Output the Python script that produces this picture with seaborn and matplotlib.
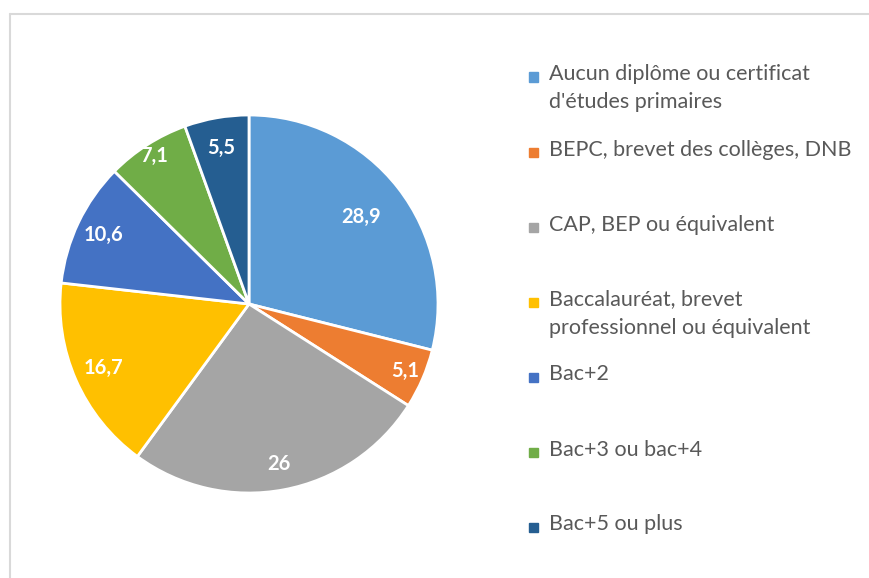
import matplotlib.pyplot as plt
import matplotlib.patches as mpatches
import seaborn as sns
import numpy as np

categories = [
    "Aucun diplôme ou certificat\nd'études primaires",
    "BEPC, brevet des collèges, DNB",
    "CAP, BEP ou équivalent",
    "Baccalauréat, brevet\nprofessionnel ou équivalent",
    "Bac+2",
    "Bac+3 ou bac+4",
    "Bac+5 ou plus",
]
values = [28.9, 5.1, 26, 16.7, 10.6, 7.1, 5.5]
value_labels = ["28,9", "5,1", "26", "16,7", "10,6", "7,1", "5,5"]
colors = ["#5B9BD5", "#ED7D31", "#A5A5A5", "#FFC000", "#4472C4", "#70AD47", "#255E91"]

# distance of each value label from the centre (fraction of radius)
label_r = [0.75, 0.9, 0.86, 0.84, 0.85, 0.93, 0.84]

sns.set_theme(style="white")
plt.rcParams['font.family'] = ['Lato', 'DejaVu Sans']

fig = plt.figure(figsize=(8.7, 5.78), dpi=100)

# chart frame (left and top edges visible)
fig.add_artist(plt.Line2D([10/870, 10/870], [0, 1 - 14/578], color="#D9D9D9", lw=1.5))
fig.add_artist(plt.Line2D([10/870, 1], [1 - 14/578, 1 - 14/578], color="#D9D9D9", lw=1.5))

ax = fig.add_axes([60/870, 85/578, 378/870, 378/578])
wedges, _ = ax.pie(values, colors=colors, startangle=90, counterclock=False,
                   radius=1, wedgeprops=dict(edgecolor="white", linewidth=2))
ax.set_xlim(-1, 1)
ax.set_ylim(-1, 1)
ax.set_aspect("equal")
ax.axis("off")

for w, lab, r in zip(wedges, value_labels, label_r):
    mid = np.deg2rad((w.theta1 + w.theta2) / 2)
    ax.text(r * np.cos(mid), r * np.sin(mid), lab, ha="center", va="center",
            color="white", fontsize=14.5, fontweight="bold")

# legend drawn entry by entry, marker aligned with the first line
for i, (cat, col) in enumerate(zip(categories, colors)):
    y = 77 + 75 * i
    fig.add_artist(mpatches.Rectangle((529/870, 1 - (y + 4.5)/578), 9/870, 9/578,
                                      transform=fig.transFigure, color=col))
    fig.text(549/870, 1 - (y - 12.5)/578, cat, ha="left", va="top", fontsize=15.5,
             color="#595959", linespacing=1.5)

fig.savefig("out.png", dpi=100)
